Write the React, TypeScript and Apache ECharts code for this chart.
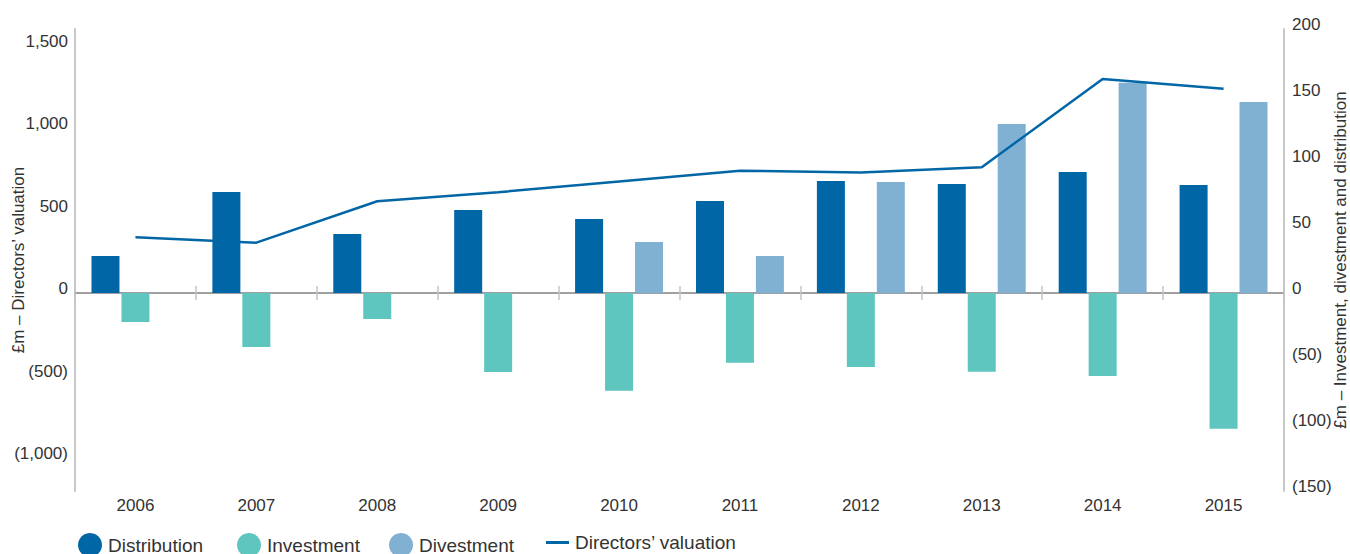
import React, { useEffect, useRef } from "react";
import * as echarts from "echarts";

const years = ["2006", "2007", "2008", "2009", "2010", "2011", "2012", "2013", "2014", "2015"];
const distribution = [28, 76.5, 44.7, 62.9, 56.1, 69.7, 84.8, 82.6, 91.7, 81.8];
const investment = [-22, -40.9, -19.7, -59.8, -74, -52.8, -56.1, -59.6, -62.9, -102.8];
const divestment = [0, 0, 0, 0, 38.6, 28, 84, 128, 159.3, 144.7];
const valuation = [338, 305, 556, 611, 676, 741, 731, 762, 1297, 1238];
const leftTicks = [-1000, -500, 0, 500, 1000, 1500];

const FONT = "Liberation Sans";
const TEXT = "#333333";
const C_DIST = "#0066a6";
const C_INV = "#5fc6bf";
const C_DIV = "#80b1d3";

const fmt = (v: number) => {
  const s = Math.abs(v).toLocaleString("en-US");
  return v < 0 ? `(${s})` : s;
};

export default function App() {
  const ref = useRef<HTMLDivElement>(null);
  useEffect(() => {
    if (!ref.current) return;
    const chart = echarts.init(ref.current, undefined, { renderer: "svg" });
    const catAxisBase = {
      type: "category" as const,
      data: years,
      boundaryGap: true,
    };
    const legendBase = {
      top: 533,
      itemWidth: 24,
      itemHeight: 24,
      padding: 0,
      textStyle: { fontFamily: FONT, fontSize: 19, color: TEXT, padding: [0, 0, 6, 1] },
    };
    chart.setOption({
      animation: false,
      textStyle: { fontFamily: FONT },
      grid: { left: 75, right: 66, top: 29, bottom: 63, containLabel: false, outerBoundsMode: "none" },
      legend: [
        { ...legendBase, left: 78, data: [{ name: "Distribution", icon: "circle" }] },
        { ...legendBase, left: 237, data: [{ name: "Investment", icon: "circle" }] },
        { ...legendBase, left: 389, data: [{ name: "Divestment", icon: "circle" }] },
        {
          ...legendBase,
          left: 546,
          itemWidth: 23,
          symbolKeepAspect: true,
          data: [
            {
              name: "Directors’ valuation",
              icon: "path://M0,0 L23,0 L23,3 L0,3 Z",
              itemStyle: { color: C_DIST },
            },
          ],
        },
      ],
      xAxis: [
        {
          ...catAxisBase,
          position: "bottom",
          axisLine: { show: false, onZero: false },
          axisTick: { show: false },
          axisLabel: { fontSize: 17, color: TEXT, fontFamily: FONT, margin: 6 },
        },
        {
          ...catAxisBase,
          position: "top",
          axisLine: { show: true, onZero: true, onZeroAxisIndex: 1, lineStyle: { color: "#9a9a9a", width: 1.5 } },
          axisTick: { show: true, length: 7, interval: 0, lineStyle: { color: "#c4c4c4", width: 1.5 } },
          axisLabel: { show: false },
        },
        {
          ...catAxisBase,
          position: "bottom",
          axisLine: { show: true, onZero: true, onZeroAxisIndex: 1, lineStyle: { color: "#9a9a9a", width: 1.5 } },
          axisTick: { show: true, length: 7, interval: 0, lineStyle: { color: "#c4c4c4", width: 1.5 } },
          axisLabel: { show: false },
        },
      ],
      yAxis: [
        {
          type: "value",
          position: "left",
          min: -1200,
          max: 1600,
          interval: 100,
          splitLine: { show: false },
          axisTick: { show: false },
          axisLine: { show: true, lineStyle: { color: "#c8c8c8", width: 2 } },
          axisLabel: {
            fontSize: 17,
            color: TEXT,
            fontFamily: FONT,
            margin: 7,
            verticalAlign: "bottom",
            lineHeight: 9,
            formatter: (v: number) => (leftTicks.includes(v) ? fmt(v) : ""),
          },
          name: "£m – Directors’ valuation",
          nameLocation: "middle",
          nameRotate: 90,
          nameGap: 48,
          nameMoveOverlap: false,
          nameTextStyle: { fontSize: 17, color: TEXT, fontFamily: FONT },
        },
        {
          type: "value",
          position: "right",
          min: -150,
          max: 200,
          interval: 50,
          splitLine: { show: false },
          axisTick: { show: false },
          axisLine: { show: true, lineStyle: { color: "#c8c8c8", width: 2 } },
          axisLabel: {
            fontSize: 17,
            color: TEXT,
            fontFamily: FONT,
            margin: 8,
            verticalAlign: "bottom",
            lineHeight: 9,
            formatter: (v: number) => fmt(v),
          },
          name: "£m – Investment, divestment and distribution",
          nameLocation: "middle",
          nameRotate: 90,
          nameGap: 48,
          nameMoveOverlap: false,
          nameTextStyle: { fontSize: 17, color: TEXT, fontFamily: FONT },
        },
      ],
      series: [
        {
          name: "Distribution",
          type: "bar",
          xAxisIndex: 0,
          yAxisIndex: 1,
          data: distribution,
          barWidth: 28,
          barGap: "7%",
          itemStyle: { color: C_DIST },
        },
        {
          name: "Investment",
          type: "bar",
          xAxisIndex: 0,
          yAxisIndex: 1,
          data: investment,
          barWidth: 28,
          barGap: "7%",
          itemStyle: { color: C_INV },
        },
        {
          name: "Divestment",
          type: "bar",
          xAxisIndex: 0,
          yAxisIndex: 1,
          data: divestment,
          barWidth: 28,
          barGap: "7%",
          itemStyle: { color: C_DIV },
        },
        {
          name: "Directors’ valuation",
          type: "line",
          xAxisIndex: 0,
          yAxisIndex: 0,
          data: valuation,
          symbol: "none",
          showSymbol: false,
          lineStyle: { color: C_DIST, width: 2.5 },
          itemStyle: { color: C_DIST },
          z: 5,
        },
      ],
    });
    return () => chart.dispose();
  }, []);
  return (
    <div
      ref={ref}
      style={{ position: "fixed", left: 0, top: 0, width: 1350, height: 554, background: "#fff" }}
    />
  );
}
